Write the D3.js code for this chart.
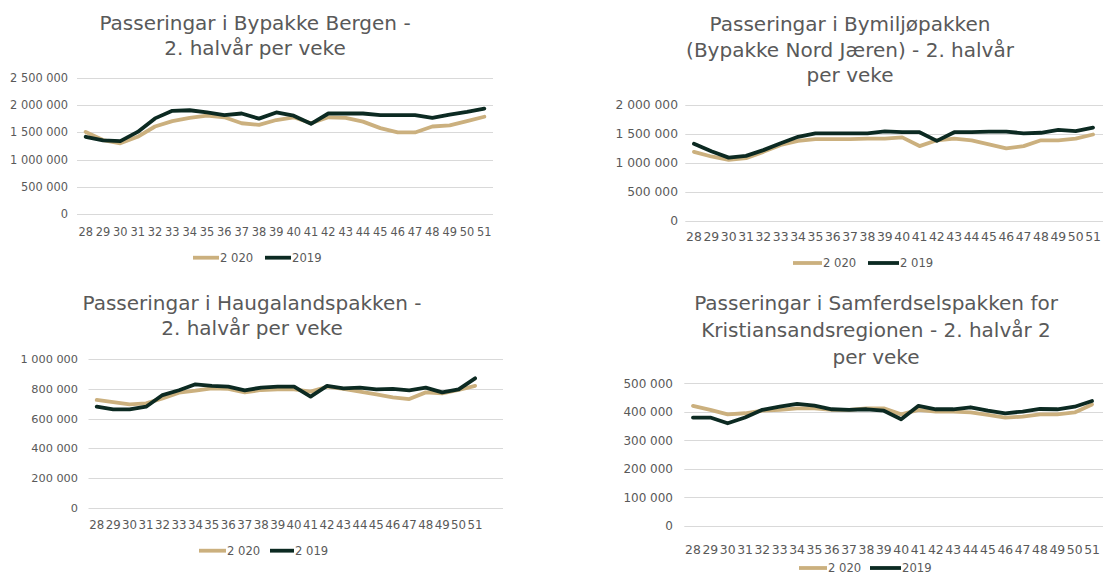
<!DOCTYPE html>
<html><head><meta charset="utf-8">
<script src="https://cdn.jsdelivr.net/npm/d3@7"></script>
<style>body{margin:0;background:#fff}svg{display:block}</style>
</head><body>
<svg id="c" width="1108" height="574"></svg>
<script>
// ---------- data ----------
const weeks = ["28","29","30","31","32","33","34","35","36","37","38","39","40","41","42","43","44","45","46","47","48","49","50","51"];

const bergen2020 = [1510000,1360000,1300000,1420000,1610000,1710000,1770000,1810000,1780000,1670000,1640000,1730000,1780000,1670000,1780000,1770000,1700000,1580000,1500000,1500000,1610000,1630000,1710000,1790000];
const bergen2019 = [1420000,1355000,1340000,1510000,1760000,1900000,1910000,1870000,1820000,1850000,1755000,1870000,1810000,1660000,1850000,1850000,1850000,1820000,1820000,1820000,1770000,1830000,1880000,1940000];

const jaeren2020 = [1190000,1110000,1050000,1080000,1190000,1310000,1380000,1410000,1410000,1410000,1420000,1420000,1440000,1290000,1390000,1420000,1390000,1320000,1250000,1290000,1390000,1390000,1420000,1490000];
const jaeren2019 = [1330000,1200000,1090000,1120000,1220000,1340000,1450000,1510000,1510000,1510000,1510000,1545000,1530000,1530000,1380000,1530000,1530000,1540000,1540000,1510000,1520000,1570000,1550000,1610000];

const haug2020 = [725000,711000,696000,702000,736000,774000,787000,803000,799000,776000,792000,796000,796000,781000,814000,799000,781000,763000,743000,731000,776000,770000,792000,820000];
const haug2019 = [680000,662000,662000,680000,758000,790000,830000,820000,814000,790000,808000,814000,814000,747000,820000,803000,808000,796000,799000,790000,808000,776000,796000,870000];

const krs2020 = [421000,407000,391000,395000,404000,407000,412000,412000,407000,407000,412000,412000,391000,407000,401000,401000,398000,389000,380000,383000,391000,391000,398000,426000];
const krs2019 = [380000,380000,360000,380000,407000,418000,428000,422000,409000,407000,409000,404000,374000,421000,409000,409000,416000,404000,395000,401000,410000,409000,418000,438000];

const ticksBergen = [0,500000,1000000,1500000,2000000,2500000];
const ticksJaeren = [0,500000,1000000,1500000,2000000];
const ticksHaug = [0,200000,400000,600000,800000,1000000];
const ticksKrs = [0,100000,200000,300000,400000,500000];

const titleBergen = ["Passeringar i Bypakke Bergen -","2. halvår per veke"];
const titleJaeren = ["Passeringar i Bymiljøpakken","(Bypakke Nord Jæren) - 2. halvår","per veke"];
const titleHaug = ["Passeringar i Haugalandspakken -","2. halvår per veke"];
const titleKrs = ["Passeringar i Samferdselspakken for","Kristiansandsregionen - 2. halvår 2","per veke"];

const legendBergen = ["2 020","2019"];
const legendJaeren = ["2 020","2 019"];
const legendHaug = ["2 020","2 019"];
const legendKrs = ["2 020","2019"];

// ---------- layout ----------
const C2020 = "#CBB07E", C2019 = "#0C2A22", TXT = "#595959", GRID = "#d9d9d9";
const fmt = d3.formatLocale({decimal:",",thousands:" ",grouping:[3],currency:["",""]}).format(",d");
const svg = d3.select("#c");

const panels = [
  {title:titleBergen, a:bergen2020, b:bergen2019, ticks:ticksBergen, legend:legendBergen,
   left:77, right:493, gridRight:493, top:78.3, bottom:213.7, labelX:68, yFs:11.4, xFs:11.4, xLabY:235.5,
   titleX:255, titleY:30, lh:25, legY:257.7, legX:[193,220,265,292]},
  {title:titleJaeren, a:jaeren2020, b:jaeren2019, ticks:ticksJaeren, legend:legendJaeren,
   left:685.3, right:1101.7, gridRight:1103, top:105, bottom:220.7, labelX:678, yFs:12.3, xFs:12.4, xLabY:241,
   titleX:850, titleY:31.2, lh:25.5, legY:263, legX:[793,823,868,900]},
  {title:titleHaug, a:haug2020, b:haug2019, ticks:ticksHaug, legend:legendHaug,
   left:88.5, right:483.3, gridRight:503, top:359, bottom:508, labelX:78, yFs:11.3, xFs:11.8, xLabY:528.5,
   titleX:252, titleY:310, lh:25, legY:550.7, legX:[199,227,270,295]},
  {title:titleKrs, a:krs2020, b:krs2019, ticks:ticksKrs, legend:legendKrs,
   left:684.3, right:1100.7, gridRight:1103, top:383.3, bottom:526, labelX:673, yFs:12, xFs:12.4, xLabY:554,
   titleX:876, titleY:309.5, lh:27, legY:568, legX:[799,828,870,902]}
];

panels.forEach(p => {
  const g = svg.append("g");
  const yMax = p.ticks[p.ticks.length-1];
  const y = d3.scaleLinear().domain([0,yMax]).range([p.bottom,p.top]);
  const x = d3.scaleBand().domain(weeks).range([p.left,p.right]);
  const cx = d => x(d) + x.bandwidth()/2;

  // title
  const t = g.append("text").attr("x",p.titleX).attr("y",p.titleY)
    .attr("text-anchor","middle").attr("fill",TXT)
    .style("font-family","'DejaVu Sans',Verdana,sans-serif").style("font-size","20px");
  p.title.forEach((line,i)=> t.append("tspan").attr("x",p.titleX).attr("dy", i===0?0:p.lh).text(line));

  // gridlines
  g.selectAll("line.grid").data(p.ticks).enter().append("line")
    .attr("x1",p.left).attr("x2",p.gridRight)
    .attr("y1",d=>Math.round(y(d))+0.5).attr("y2",d=>Math.round(y(d))+0.5)
    .attr("stroke",GRID).attr("stroke-width",1);

  // y labels
  g.selectAll("text.yl").data(p.ticks).enter().append("text")
    .attr("x",p.labelX).attr("y",d=>y(d)).attr("dy","0.35em")
    .attr("text-anchor","end").attr("fill",TXT)
    .style("font-family","'DejaVu Sans',Verdana,sans-serif").style("font-size",p.yFs+"px")
    .text(d=>fmt(d));

  // x labels
  g.selectAll("text.xl").data(weeks).enter().append("text")
    .attr("x",d=>cx(d)).attr("y",p.xLabY)
    .attr("text-anchor","middle").attr("fill",TXT)
    .style("font-family","'DejaVu Sans',Verdana,sans-serif").style("font-size",p.xFs+"px")
    .text(d=>d);

  // lines
  const line = d3.line().x((d,i)=>cx(weeks[i])).y(d=>y(d));
  [[p.a,C2020],[p.b,C2019]].forEach(([s,c])=>{
    g.append("path").datum(s).attr("d",line).attr("fill","none")
      .attr("stroke",c).attr("stroke-width",3.8)
      .attr("stroke-linejoin","round").attr("stroke-linecap","round");
  });

  // legend
  [[C2020,p.legend[0],p.legX[0],p.legX[1]],[C2019,p.legend[1],p.legX[2],p.legX[3]]].forEach(([c,lab,x0,tx])=>{
    g.append("line").attr("x1",x0).attr("x2",tx-1).attr("y1",p.legY).attr("y2",p.legY)
      .attr("stroke",c).attr("stroke-width",3.8);
    g.append("text").attr("x",tx).attr("y",p.legY).attr("dy","0.35em").attr("fill",TXT)
      .style("font-family","'DejaVu Sans',Verdana,sans-serif").style("font-size","11.6px").text(lab);
  });
});
</script>
</body></html>
